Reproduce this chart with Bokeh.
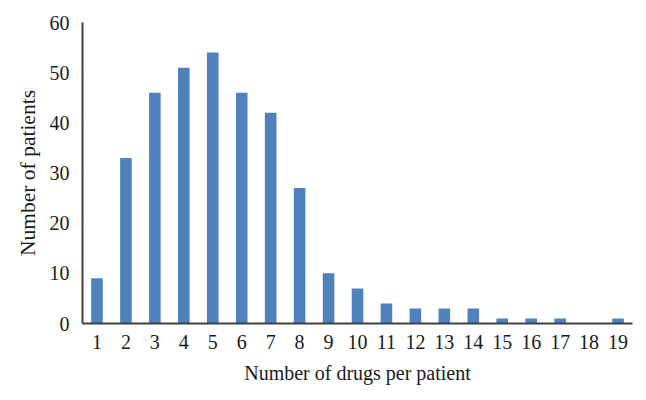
from bokeh.plotting import figure
from bokeh.models import Range1d, FactorRange
from bokeh.embed import file_html
from bokeh.resources import INLINE

drugs = [str(i) for i in range(1, 20)]
patients = [9, 33, 46, 51, 54, 46, 42, 27, 10, 7, 4, 3, 3, 3, 1, 1, 1, 0, 1]
y_ticks = [0, 10, 20, 30, 40, 50, 60]

FONT = "Liberation Serif"

p = figure(width=646, height=400, x_range=FactorRange(*drugs, range_padding=0),
           y_range=Range1d(0, 60), output_backend="svg", toolbar_location=None,
           min_border_left=82, min_border_right=14, min_border_top=22, min_border_bottom=77)
p.vbar(x=drugs, top=patients, width=0.4, color="#4f81bd", line_color=None)

p.outline_line_color = None
p.xgrid.grid_line_color = None
p.ygrid.grid_line_color = None

for ax in (p.xaxis, p.yaxis):
    ax.axis_line_color = "#404040"
    ax.axis_line_width = 2
    ax.major_tick_line_color = None
    ax.minor_tick_line_color = None
    ax.major_label_text_font = FONT
    ax.major_label_text_font_size = "20px"
    ax.major_label_text_color = "#1a1a1a"
    ax.axis_label_text_font = FONT
    ax.axis_label_text_font_size = "20px"
    ax.axis_label_text_font_style = "normal"
    ax.axis_label_text_color = "#1a1a1a"

p.yaxis.axis_label_text_font_size = "21.5px"
p.yaxis.ticker = y_ticks
p.yaxis.major_label_standoff = 7
p.xaxis.major_label_standoff = 5
p.yaxis.axis_label = "Number of patients"
p.xaxis.axis_label = "Number of drugs per patient"
p.yaxis.axis_label_standoff = 7
p.xaxis.axis_label_standoff = 10

open("out.html", "w").write(file_html(p, INLINE))
